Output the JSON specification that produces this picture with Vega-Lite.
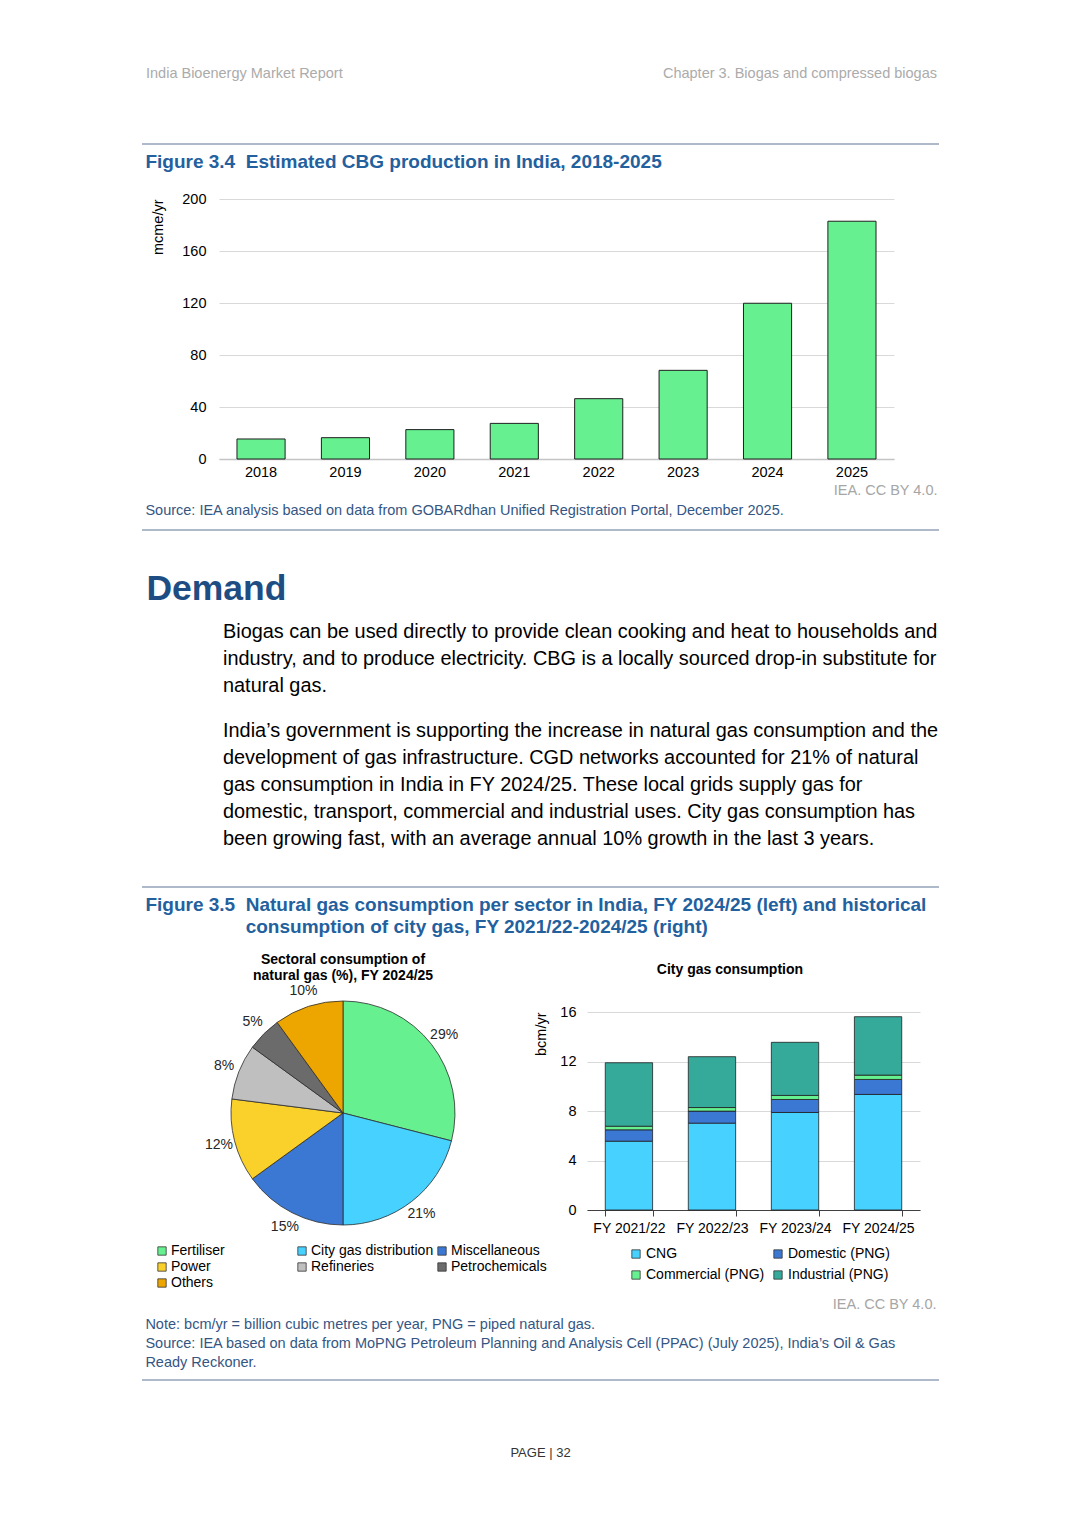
{
  "$schema": "https://vega.github.io/schema/vega-lite/v6.json",
  "background": "#ffffff",
  "padding": {"left": 141, "top": 66, "right": 0, "bottom": 0},
  "spacing": 8,
  "config": {
    "view": {"stroke": null},
    "font": "Liberation Sans",
    "title": {"font": "Liberation Sans", "fontWeight": "normal", "color": "#000000"},
    "axis": {
      "labelFont": "Liberation Sans", "titleFont": "Liberation Sans",
      "labelFontSize": 14.5, "titleFontSize": 14.5,
      "labelColor": "#000000", "titleColor": "#000000", "titleFontWeight": "normal",
      "gridColor": "#D9D9D9", "gridWidth": 1, "ticks": false, "domain": false
    },
    "legend": {"labelFont": "Liberation Sans", "labelFontSize": 14, "labelColor": "#000000", "symbolType": "square", "symbolStrokeColor": "#333333", "symbolStrokeWidth": 0.8}
  },
  "vconcat": [
    {
      "width": 720, "height": 70,
      "layer": [
        {
          "data": {"values": [{"t": "India Bioenergy Market Report"}]},
          "mark": {"type": "text", "align": "left", "baseline": "middle", "fontSize": 14.5, "color": "#ABABAB", "dx": 4},
          "encoding": {
            "x": {"datum": 0, "type": "quantitative", "scale": {"domain": [0, 1], "range": [-77, 720]}, "axis": null},
            "y": {"datum": 1, "type": "quantitative", "scale": {"domain": [0, 1]}, "axis": null},
            "text": {"field": "t"}
          }
        },
        {
          "data": {"values": [{"t": "Chapter 3. Biogas and compressed biogas"}]},
          "mark": {"type": "text", "align": "right", "baseline": "middle", "fontSize": 14.5, "color": "#ABABAB", "dx": -2},
          "encoding": {
            "x": {"datum": 1, "type": "quantitative", "scale": {"domain": [0, 1], "range": [-77, 720]}, "axis": null},
            "y": {"datum": 1, "type": "quantitative", "scale": {"domain": [0, 1]}, "axis": null},
            "text": {"field": "t"}
          }
        },
        {
          "data": {"values": [{}]},
          "mark": {"type": "rule", "color": "#5E7594", "strokeWidth": 1.2},
          "encoding": {
            "x": {"datum": 0, "type": "quantitative", "scale": {"domain": [0, 1], "range": [-77, 720]}, "axis": null},
            "x2": {"datum": 1},
            "y": {"datum": 0, "type": "quantitative", "scale": {"domain": [0, 1]}, "axis": null}
          }
        }
      ]
    },
    {
      "title": {"text": "Figure 3.4\u00a0\u00a0Estimated CBG production in India, 2018-2025", "anchor": "start", "fontSize": 19, "fontWeight": "bold", "color": "#23609E", "offset": 19, "dx": 4},
      "spacing": 5,
      "vconcat": [
        {
          "width": 675, "height": 260,
          "data": {"values": [
            {"year": "2018", "value": 15.4},
            {"year": "2019", "value": 16.4},
            {"year": "2020", "value": 22.6},
            {"year": "2021", "value": 27.4},
            {"year": "2022", "value": 46.4},
            {"year": "2023", "value": 68.2},
            {"year": "2024", "value": 119.8},
            {"year": "2025", "value": 182.9}
          ]},
          "mark": {"type": "bar", "color": "#66F08F", "stroke": "#1F1F1F", "strokeWidth": 1},
          "encoding": {
            "x": {"field": "year", "type": "nominal", "scale": {"paddingInner": 0.43, "paddingOuter": 0.213},
              "axis": {"labelAngle": 0, "labelPadding": 6, "domain": true, "domainColor": "#C4C4C4", "domainWidth": 1.5,
                "title": "IEA. CC BY 4.0.", "titleColor": "#A6A6A6", "titleAnchor": "end", "titleAlign": "right", "titleX": 718, "titleY": 31, "titleBaseline": "middle"}},
            "y": {"field": "value", "type": "quantitative", "scale": {"domain": [0, 200]},
              "axis": {"values": [0, 40, 80, 120, 160, 200], "grid": true, "labelPadding": 13, "title": "mcme/yr", "titleAnchor": "end", "titlePadding": 16}}
          }
        },
        {
          "width": 720, "height": 33,
          "data": {"values": [{}]},
          "title": {"text": "Source: IEA analysis based on data from GOBARdhan Unified Registration Portal, December 2025.", "anchor": "start", "fontSize": 14.5, "color": "#355683", "offset": 11, "dx": 4},
          "mark": {"type": "rule", "color": "#5E7594", "strokeWidth": 1.2},
          "encoding": {
            "x": {"datum": 0, "type": "quantitative", "scale": {"domain": [0, 1], "range": [-77, 720]}, "axis": null},
            "x2": {"datum": 1},
            "y": {"datum": 1, "type": "quantitative", "scale": {"domain": [0, 1]}, "axis": null}
          }
        }
      ]
    },
    {
      "title": {"text": "Demand", "anchor": "start", "fontSize": 35.5, "fontWeight": "bold", "color": "#1E4D84", "offset": 11, "dx": 5},
      "spacing": 18,
      "vconcat": [
        {
          "width": 720, "height": {"step": 27},
          "data": {"values": [
            {"line": 1, "text": "Biogas can be used directly to provide clean cooking and heat to households and"},
            {"line": 2, "text": "industry, and to produce electricity. CBG is a locally sourced drop-in substitute for"},
            {"line": 3, "text": "natural gas."}
          ]},
          "mark": {"type": "text", "align": "left", "baseline": "middle", "fontSize": 19.9, "color": "#000000", "dx": 4},
          "encoding": {
            "x": {"datum": 0, "type": "quantitative", "scale": {"domain": [0, 1]}, "axis": null},
            "y": {"field": "line", "type": "ordinal", "axis": null},
            "text": {"field": "text"}
          }
        },
        {
          "width": 720, "height": {"step": 27},
          "data": {"values": [
            {"line": 1, "text": "India’s government is supporting the increase in natural gas consumption and the"},
            {"line": 2, "text": "development of gas infrastructure. CGD networks accounted for 21% of natural"},
            {"line": 3, "text": "gas consumption in India in FY 2024/25. These local grids supply gas for"},
            {"line": 4, "text": "domestic, transport, commercial and industrial uses. City gas consumption has"},
            {"line": 5, "text": "been growing fast, with an average annual 10% growth in the last 3 years."}
          ]},
          "mark": {"type": "text", "align": "left", "baseline": "middle", "fontSize": 19.9, "color": "#000000", "dx": 4},
          "encoding": {
            "x": {"datum": 0, "type": "quantitative", "scale": {"domain": [0, 1]}, "axis": null},
            "y": {"field": "line", "type": "ordinal", "axis": null},
            "text": {"field": "text"}
          }
        },
        {
          "width": 720, "height": 17,
          "data": {"values": [{}]},
          "mark": {"type": "rule", "color": "#5E7594", "strokeWidth": 1.2},
          "encoding": {
            "x": {"datum": 0, "type": "quantitative", "scale": {"domain": [0, 1], "range": [-77, 720]}, "axis": null},
            "x2": {"datum": 1},
            "y": {"datum": 0, "type": "quantitative", "scale": {"domain": [0, 1]}, "axis": null}
          }
        }
      ]
    },
    {
      "title": {"text": ["Figure 3.5\u00a0\u00a0Natural gas consumption per sector in India, FY 2024/25 (left) and historical", "\u200b\u00a0\u00a0\u00a0\u00a0\u00a0\u00a0\u00a0\u00a0\u00a0\u00a0\u00a0\u00a0\u00a0\u00a0\u00a0\u00a0\u00a0\u00a0\u00a0consumption of city gas, FY 2021/22-2024/25 (right)"], "anchor": "start", "fontSize": 19, "fontWeight": "bold", "color": "#23609E", "lineHeight": 22, "offset": 16, "dx": 4},
      "spacing": 5,
      "vconcat": [
        {
          "spacing": -14,
          "resolve": {"scale": {"color": "independent"}, "legend": {"color": "independent"}},
          "hconcat": [
            {
              "width": 248, "height": 202,
              "title": {"text": ["Sectoral consumption of", "natural gas (%), FY 2024/25"], "fontSize": 14, "fontWeight": "bold", "lineHeight": 16, "anchor": "middle", "frame": "group", "offset": 1, "color": "#000000"},
              "data": {"values": [
                {"sector": "Fertiliser", "share": 29, "label": "29%", "ord": 1},
                {"sector": "City gas distribution", "share": 21, "label": "21%", "ord": 2},
                {"sector": "Miscellaneous", "share": 15, "label": "15%", "ord": 3},
                {"sector": "Power", "share": 12, "label": "12%", "ord": 4},
                {"sector": "Refineries", "share": 8, "label": "8%", "ord": 5},
                {"sector": "Petrochemicals", "share": 5, "label": "5%", "ord": 6},
                {"sector": "Others", "share": 10, "label": "10%", "ord": 7}
              ]},
              "encoding": {
                "theta": {"field": "share", "type": "quantitative", "stack": true},
                "order": {"field": "ord", "type": "quantitative"}
              },
              "layer": [
                {
                  "mark": {"type": "arc", "outerRadius": 112, "stroke": "#2B2B2B", "strokeWidth": 0.8},
                  "encoding": {
                    "color": {"field": "sector", "type": "nominal",
                      "scale": {"domain": ["Fertiliser", "City gas distribution", "Miscellaneous", "Power", "Refineries", "Petrochemicals", "Others"],
                                "range": ["#66F08F", "#47D1FF", "#3B78D4", "#FAD02A", "#BFBFBF", "#6B6B6B", "#EDA600"]},
                      "legend": {"title": null, "orient": "none", "legendX": -64, "legendY": 232, "columns": 3, "direction": "horizontal", "gridAlign": "all", "columnPadding": 1, "rowPadding": 2, "symbolSize": 70, "labelFontSize": 14, "labelOffset": 2}}
                  }
                },
                {
                  "mark": {"type": "text", "radius": 128, "fontSize": 14, "color": "#262626"},
                  "encoding": {"text": {"field": "label"}}
                }
              ]
            },
            {
              "width": 333, "height": 198,
              "title": {"text": "City gas consumption", "fontSize": 14, "fontWeight": "bold", "anchor": "middle", "frame": "bounds", "offset": 27, "dx": -5, "color": "#000000"},
              "data": {"values": [
                {"fy": "FY 2021/22", "type": "CNG", "bcm": 5.56, "ord": 1},
                {"fy": "FY 2021/22", "type": "Domestic (PNG)", "bcm": 0.92, "ord": 2},
                {"fy": "FY 2021/22", "type": "Commercial (PNG)", "bcm": 0.29, "ord": 3},
                {"fy": "FY 2021/22", "type": "Industrial (PNG)", "bcm": 5.13, "ord": 4},
                {"fy": "FY 2022/23", "type": "CNG", "bcm": 7.02, "ord": 1},
                {"fy": "FY 2022/23", "type": "Domestic (PNG)", "bcm": 0.97, "ord": 2},
                {"fy": "FY 2022/23", "type": "Commercial (PNG)", "bcm": 0.29, "ord": 3},
                {"fy": "FY 2022/23", "type": "Industrial (PNG)", "bcm": 4.11, "ord": 4},
                {"fy": "FY 2023/24", "type": "CNG", "bcm": 7.88, "ord": 1},
                {"fy": "FY 2023/24", "type": "Domestic (PNG)", "bcm": 1.05, "ord": 2},
                {"fy": "FY 2023/24", "type": "Commercial (PNG)", "bcm": 0.33, "ord": 3},
                {"fy": "FY 2023/24", "type": "Industrial (PNG)", "bcm": 4.29, "ord": 4},
                {"fy": "FY 2024/25", "type": "CNG", "bcm": 9.34, "ord": 1},
                {"fy": "FY 2024/25", "type": "Domestic (PNG)", "bcm": 1.21, "ord": 2},
                {"fy": "FY 2024/25", "type": "Commercial (PNG)", "bcm": 0.35, "ord": 3},
                {"fy": "FY 2024/25", "type": "Industrial (PNG)", "bcm": 4.72, "ord": 4}
              ]},
              "mark": {"type": "bar", "stroke": "#1F1F1F", "strokeWidth": 0.8},
              "encoding": {
                "x": {"field": "fy", "type": "nominal", "scale": {"paddingInner": 0.43, "paddingOuter": 0.22},
                  "axis": {"labelAngle": 0, "labelPadding": 5, "labelFontSize": 14, "domain": true, "domainColor": "#404040", "ticks": true, "tickBand": "extent", "tickSize": 6, "tickColor": "#404040",
                    "title": "IEA. CC BY 4.0.", "titleColor": "#A6A6A6", "titleAlign": "right", "titleX": 349, "titleY": 94, "titleBaseline": "middle"}},
                "y": {"field": "bcm", "type": "quantitative", "stack": "zero", "scale": {"domain": [0, 16]},
                  "axis": {"values": [0, 4, 8, 12, 16], "grid": true, "labelPadding": 11, "title": "bcm/yr", "titleAnchor": "end", "titlePadding": 11}},
                "color": {"field": "type", "type": "nominal",
                  "scale": {"domain": ["CNG", "Domestic (PNG)", "Commercial (PNG)", "Industrial (PNG)"], "range": ["#47D1FF", "#3B78D4", "#66F08F", "#35A99A"]},
                  "legend": {"title": null, "orient": "none", "legendX": 42, "legendY": 235, "columns": 2, "direction": "horizontal", "gridAlign": "all", "columnPadding": 6, "rowPadding": 7, "symbolSize": 70, "labelFontSize": 14, "labelOffset": 3}},
                "order": {"field": "ord", "type": "quantitative"}
              }
            }
          ]
        },
        {
          "width": 720, "height": 55,
          "data": {"values": [{}]},
          "title": {"text": ["Note: bcm/yr = billion cubic metres per year, PNG = piped natural gas.", "Source: IEA based on data from MoPNG Petroleum Planning and Analysis Cell (PPAC) (July 2025), India’s Oil & Gas", "Ready Reckoner."], "anchor": "start", "fontSize": 14.5, "lineHeight": 19, "color": "#355683", "offset": 9, "dx": 4},
          "mark": {"type": "rule", "color": "#5E7594", "strokeWidth": 1.2},
          "encoding": {
            "x": {"datum": 0, "type": "quantitative", "scale": {"domain": [0, 1], "range": [-77, 720]}, "axis": null},
            "x2": {"datum": 1},
            "y": {"datum": 1, "type": "quantitative", "scale": {"domain": [0, 1]}, "axis": null}
          }
        }
      ]
    },
    {
      "width": 720, "height": 20,
      "data": {"values": [{"t": "PAGE | 32"}]},
      "mark": {"type": "text", "fontSize": 13, "color": "#333333"},
      "encoding": {
        "x": {"datum": 0.5, "type": "quantitative", "scale": {"domain": [0, 1], "range": [-77, 720]}, "axis": null},
        "text": {"field": "t"}
      }
    }
  ]
}
